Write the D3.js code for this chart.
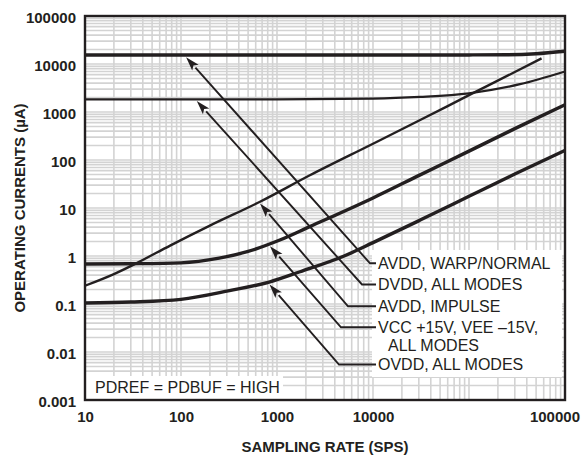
<!DOCTYPE html>
<html>
<head>
<meta charset="utf-8">
<script src="https://cdn.jsdelivr.net/npm/d3@7"></script>
<style>
  html, body { margin: 0; padding: 0; background: #fff; }
  svg text { font-family: "Liberation Sans", Arial, Helvetica, sans-serif; fill: #231f20; }
</style>
</head>
<body>
<svg id="chart" width="582" height="456"></svg>
<script>
// Operating currents (µA) versus sampling rate (SPS), log-log.
const avddWarp = [[10, 15400], [1000, 15400], [30000, 15400], [100000, 15450], [250000, 15600], [500000, 16400], [1000000, 18500]];
const dvdd = [[10, 1840], [1000, 1840], [10000, 1900], [31000, 2060], [100000, 2450], [340000, 3800], [1000000, 7000]];
const avddImpulse = [[10, 0.24], [20, 0.42], [35, 0.72], [77, 1.65], [200, 4.3], [665, 13.5], [2200, 48], [10000, 218], [31000, 680], [100000, 2240], [300000, 6800], [570000, 13100]];
const vccVee = [[10, 0.68], [30, 0.69], [100, 0.72], [250, 0.9], [490, 1.23], [1070, 2.15], [2200, 4.1], [10000, 16.2], [31000, 49], [100000, 153], [300000, 450], [1000000, 1420]];
const ovdd = [[10, 0.105], [30, 0.11], [100, 0.125], [320, 0.19], [845, 0.29], [1740, 0.47], [5000, 1.0], [10000, 1.9], [31000, 5.6], [100000, 17.5], [300000, 51], [1000000, 158]];

const xTicks = [10, 100, 1000, 10000, 1000000];
const xTickText = ["10", "100", "1000", "10000", "100000"];
const yTicks = [0.001, 0.01, 0.1, 1, 10, 100, 1000, 10000, 100000];
const yTickText = ["0.001", "0.01", "0.1", "1", "10", "100", "1000", "10000", "100000"];

const seriesLabels = [
  { lines: ["AVDD, WARP/NORMAL"], data: avddWarp, rate: 113 },
  { lines: ["DVDD, ALL MODES"], data: dvdd, rate: 146 },
  { lines: ["AVDD, IMPULSE"], data: avddImpulse, rate: 665 },
  { lines: ["VCC +15V, VEE \u201315V,", "ALL MODES"], data: vccVee, rate: 845 },
  { lines: ["OVDD, ALL MODES"], data: ovdd, rate: 835 }
];

const ink = "#231f20";
const W = 582, H = 456;
const plot = { left: 85, top: 16, right: 565, bottom: 400 };

const svg = d3.select("#chart");
const x = d3.scaleLog().domain([10, 1000000]).range([plot.left, plot.right]);
const y = d3.scaleLog().domain([0.001, 100000]).range([plot.bottom, plot.top]);

// grid: every 1..9 multiple in each decade
const grid = svg.append("g").attr("stroke", "#d3d3d3").attr("stroke-width", 1.6);
grid.selectAll("line.gx").data(x.ticks()).join("line")
  .attr("x1", d => x(d)).attr("x2", d => x(d))
  .attr("y1", plot.top).attr("y2", plot.bottom);
grid.selectAll("line.gy").data(y.ticks()).join("line")
  .attr("y1", d => y(d)).attr("y2", d => y(d))
  .attr("x1", plot.left).attr("x2", plot.right);

// white panels behind the annotation text
svg.append("rect").attr("x", 372).attr("y", 250).attr("width", 190).attr("height", 127).attr("fill", "#fff");
svg.append("rect").attr("x", 86).attr("y", 376).attr("width", 197).attr("height", 23).attr("fill", "#fff");

// curves
const line = d3.line().x(d => x(d[0])).y(d => y(d[1])).curve(d3.curveMonotoneX);
const curves = [
  { data: avddWarp, w: 3.4 },
  { data: dvdd, w: 2.2 },
  { data: avddImpulse, w: 2.4 },
  { data: vccVee, w: 3.4 },
  { data: ovdd, w: 3.4 }
];
svg.append("g").selectAll("path").data(curves).join("path")
  .attr("d", d => line(d.data))
  .attr("fill", "none").attr("stroke", ink)
  .attr("stroke-width", d => d.w).attr("stroke-linejoin", "round");

// frame
svg.append("rect")
  .attr("x", plot.left).attr("y", plot.top)
  .attr("width", plot.right - plot.left).attr("height", plot.bottom - plot.top)
  .attr("fill", "none").attr("stroke", ink).attr("stroke-width", 2.4);

// axes
const yAxis = d3.axisLeft(y).tickValues(yTicks).tickSize(0).tickPadding(8)
  .tickFormat((d, i) => yTickText[i]);
const gy = svg.append("g").attr("transform", `translate(${plot.left - 1},1.5)`).call(yAxis);
gy.select(".domain").remove();
gy.selectAll("text").attr("font-size", 15).attr("font-weight", "bold")
  .attr("font-family", "'Liberation Sans', Arial, sans-serif").attr("fill", ink);

const xAxis = d3.axisBottom(x).tickValues(xTicks).tickSize(0).tickPadding(11)
  .tickFormat((d, i) => xTickText[i]);
const gx = svg.append("g").attr("transform", `translate(0,${plot.bottom})`).call(xAxis);
gx.select(".domain").remove();
gx.selectAll("text").attr("font-size", 15).attr("font-weight", "bold")
  .attr("font-family", "'Liberation Sans', Arial, sans-serif").attr("fill", ink)
  .each(function () {
    const t = d3.select(this);
    const bb = this.getBBox();
    const tx = +d3.select(this.parentNode).attr("transform").match(/translate\(([^,]+)/)[1];
    if (tx + bb.x + bb.width > W - 1) t.attr("text-anchor", "end").attr("x", W - 2 - tx);
  });

svg.append("text").attr("x", (plot.left + plot.right) / 2).attr("y", 452)
  .attr("text-anchor", "middle").attr("font-size", 15).attr("font-weight", "bold")
  .text("SAMPLING RATE (SPS)");
svg.append("text")
  .attr("transform", `translate(25,${(plot.top + plot.bottom) / 2}) rotate(-90)`)
  .attr("text-anchor", "middle").attr("font-size", 15).attr("font-weight", "bold")
  .text("OPERATING CURRENTS (\u00b5A)");

svg.append("text").attr("x", 95).attr("y", 387).attr("dy", "0.36em")
  .attr("font-size", 16).text("PDREF = PDBUF = HIGH");

// callouts: arrow from each label to its curve
function valueAt(data, r) {
  const lr = Math.log10(r);
  for (let i = 1; i < data.length; i++) {
    const a = Math.log10(data[i - 1][0]), b = Math.log10(data[i][0]);
    if (lr <= b) {
      const t = (lr - a) / (b - a);
      return Math.pow(10, Math.log10(data[i - 1][1]) * (1 - t) + Math.log10(data[i][1]) * t);
    }
  }
  return data[data.length - 1][1];
}
const rows = [263.3, 284.5, 306.3, 327.3, 364.5];
const elbows = [370, 362, 348, 341, 339];
const tipGap = [2.2, 1.6, 1.8, 2.6, 2.6];
const lineGap = 18;
const textX = 378, hEnd = 376;
const callouts = svg.append("g");
seriesLabels.forEach((s, i) => {
  const tx = x(s.rate);
  const ty = y(valueAt(s.data, s.rate)) + tipGap[i];
  const ex = elbows[i], ey = rows[i];
  const dx = ex - tx, dy = ey - ty, len = Math.hypot(dx, dy);
  const ux = dx / len, uy = dy / len;
  const headL = 14, headW = 4.3;
  const bx = tx + ux * headL, by = ty + uy * headL;
  callouts.append("path")
    .attr("d", `M${bx},${by}L${ex},${ey}L${hEnd},${ey}`)
    .attr("fill", "none").attr("stroke", ink).attr("stroke-width", 1.9);
  callouts.append("path")
    .attr("d", `M${tx},${ty}L${bx - uy * headW},${by + ux * headW}L${tx + ux * (headL - 3)},${ty + uy * (headL - 3)}L${bx + uy * headW},${by - ux * headW}Z`)
    .attr("fill", ink);
  s.lines.forEach((t, j) => {
    callouts.append("text")
      .attr("x", textX + (j ? 10 : 0)).attr("y", ey + j * lineGap).attr("dy", "0.36em")
      .attr("font-size", 16).text(t);
  });
});
</script>
</body>
</html>
